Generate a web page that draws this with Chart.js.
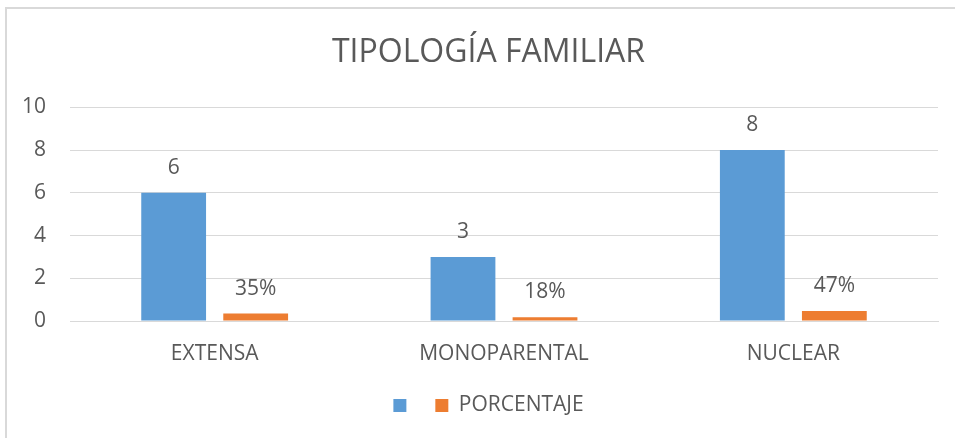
<!DOCTYPE html>
<html>
<head>
<meta charset="utf-8">
<script src="https://cdn.jsdelivr.net/npm/chart.js@4.4.1/dist/chart.umd.min.js"></script>
<style>
  body { margin: 0; background: #fff; }
  #wrap { position: relative; width: 955px; height: 438px; }
  #wrap canvas { position: absolute; left: 0; top: 0; }
  .edge-top { position: absolute; left: 5px; top: 7px; width: 950px; height: 2px; background: #d9d9d9; }
  .edge-left { position: absolute; left: 5px; top: 7px; width: 2px; height: 431px; background: #d9d9d9; }
</style>
</head>
<body>
<div id="wrap">
  <div class="edge-top"></div>
  <div class="edge-left"></div>
  <canvas id="chart" width="955" height="438"></canvas>
</div>
<script>
const categories = ['EXTENSA', 'MONOPARENTAL', 'NUCLEAR'];
const cantidad = [6, 3, 8];
const porcentaje = [0.35, 0.18, 0.47];
const yTicks = [0, 2, 4, 6, 8, 10];

const textColor = '#595959';
const fontFamily = '"Open Sans", "Liberation Sans", sans-serif';

// etiquetas de valor encima de cada barra
const valueLabels = {
  id: 'valueLabels',
  afterDatasetsDraw(chart) {
    const ctx = chart.ctx;
    ctx.save();
    ctx.fillStyle = textColor;
    ctx.font = '21px ' + fontFamily;
    ctx.textAlign = 'center';
    ctx.textBaseline = 'middle';
    chart.data.datasets.forEach((ds, i) => {
      const meta = chart.getDatasetMeta(i);
      meta.data.forEach((bar, j) => {
        const v = ds.data[j];
        const txt = i === 1 ? Math.round(v * 100) + '%' : String(v);
        ctx.fillText(txt, bar.x, bar.y - 25);
      });
    });
    ctx.restore();
  }
};

new Chart(document.getElementById('chart'), {
  type: 'bar',
  data: {
    labels: categories,
    datasets: [
      { label: ' ', data: cantidad, backgroundColor: '#5B9BD5' },
      { label: 'PORCENTAJE', data: porcentaje, backgroundColor: '#ED7D31' }
    ]
  },
  options: {
    responsive: false,
    animation: false,
    categoryPercentage: 0.567,
    barPercentage: 0.79,
    layout: { padding: { left: 39, right: 17, top: 0, bottom: 12 } },
    plugins: {
      title: {
        display: true,
        text: 'TIPOLOGÍA FAMILIAR',
        color: textColor,
        font: { family: fontFamily, size: 32, weight: 'normal', lineHeight: 1.2 },
        padding: { top: 34, bottom: 35 }
      },
      legend: {
        position: 'bottom',
        labels: {
          color: textColor,
          font: { family: fontFamily, size: 21 },
          boxWidth: 13,
          boxHeight: 13,
          padding: 13
        }
      },
      tooltip: { enabled: false }
    },
    scales: {
      x: {
        grid: { display: false },
        border: { display: true, color: '#d9d9d9', width: 1 },
        ticks: { color: textColor, font: { family: fontFamily, size: 21 }, padding: 12 },
        afterFit(scale) { scale.height = 61; }
      },
      y: {
        min: 0,
        max: 10,
        afterBuildTicks(scale) { scale.ticks = yTicks.map(v => ({ value: v })); },
        grid: { color: '#d9d9d9', drawTicks: false },
        border: { display: false },
        ticks: { color: textColor, font: { family: fontFamily, size: 21 }, padding: 24 },
        afterFit(scale) {
          scale.width = 31;
          // no recortar las etiquetas al ancho reducido del eje
          scale._computeLabelArea = () => undefined;
        }
      }
    }
  },
  plugins: [valueLabels]
});
</script>
</body>
</html>
